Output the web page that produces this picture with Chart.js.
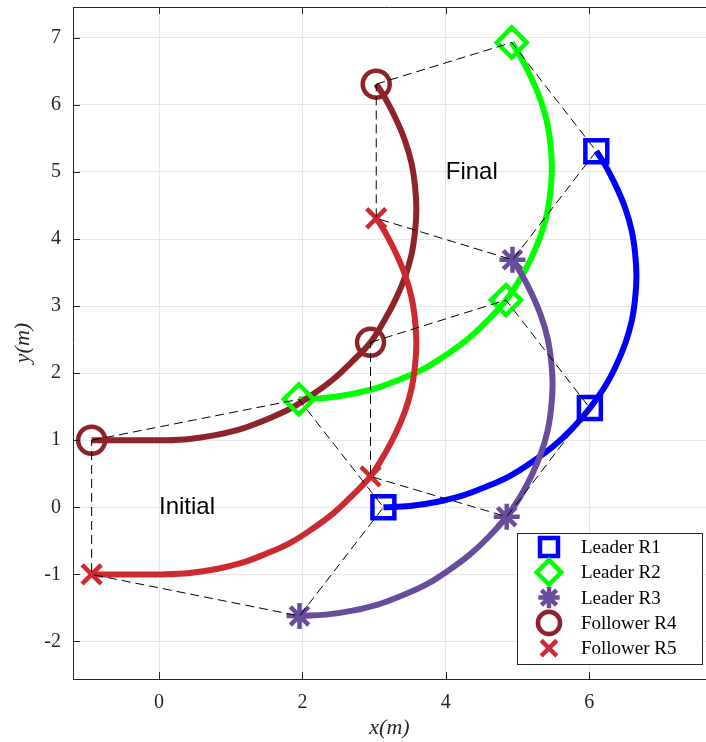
<!DOCTYPE html>
<html>
<head>
<meta charset="utf-8">
<script src="https://cdn.jsdelivr.net/npm/chart.js@4.4.0/dist/chart.umd.min.js"></script>
<style>
body { margin: 0; background: #fff; }
canvas { display: block; }
</style>
</head>
<body>
<canvas id="formation" width="706" height="742"></canvas>
<script>
// robots, in legend order
var robotNames = ['Leader R1', 'Leader R2', 'Leader R3', 'Follower R4', 'Follower R5'];
var robotColors = ['#0000ff', '#00ff00', '#6a4c9c', '#8e2329', '#cc2a30'];
var robotMarkers = ['rect', 'rectRot', 'star', 'circle', 'crossRot'];

// trajectories (m)
var r1X = [3.13, 3.5, 3.87, 4.22, 4.57, 4.9, 5.21, 5.5, 5.76, 6.01, 6.22, 6.37, 6.5, 6.59, 6.64, 6.66, 6.64, 6.59, 6.5, 6.37, 6.22, 6.1];
var r1Y = [0, 0.02, 0.08, 0.17, 0.31, 0.47, 0.68, 0.91, 1.17, 1.48, 1.8, 2.1, 2.43, 2.76, 3.1, 3.45, 3.8, 4.14, 4.47, 4.8, 5.11, 5.31];
var r2X = [1.95, 2.32, 2.69, 3.04, 3.39, 3.72, 4.03, 4.32, 4.58, 4.84, 5.04, 5.19, 5.32, 5.41, 5.46, 5.48, 5.46, 5.41, 5.32, 5.19, 5.04, 4.92];
var r2Y = [1.61, 1.63, 1.69, 1.78, 1.92, 2.08, 2.29, 2.52, 2.78, 3.09, 3.41, 3.71, 4.04, 4.37, 4.71, 5.06, 5.41, 5.75, 6.08, 6.41, 6.72, 6.93];
var r3X = [1.96, 2.33, 2.7, 3.05, 3.4, 3.73, 4.04, 4.33, 4.59, 4.85, 5.05, 5.2, 5.33, 5.42, 5.47, 5.49, 5.47, 5.42, 5.33, 5.2, 5.05, 4.93];
var r3Y = [-1.62, -1.6, -1.54, -1.45, -1.31, -1.15, -0.94, -0.71, -0.45, -0.14, 0.18, 0.48, 0.81, 1.14, 1.48, 1.83, 2.18, 2.52, 2.85, 3.18, 3.49, 3.69];
var r4X = [-0.94, -0.5, 0.06, 0.43, 0.8, 1.15, 1.5, 1.83, 2.14, 2.43, 2.69, 2.95, 3.15, 3.3, 3.43, 3.52, 3.57, 3.59, 3.57, 3.52, 3.43, 3.3, 3.15, 3.03];
var r4Y = [1, 1, 1, 1.02, 1.08, 1.17, 1.31, 1.47, 1.68, 1.91, 2.17, 2.46, 2.8, 3.1, 3.43, 3.76, 4.1, 4.45, 4.8, 5.14, 5.47, 5.8, 6.11, 6.31];
var r5X = [-0.94, -0.5, 0.06, 0.43, 0.8, 1.15, 1.5, 1.83, 2.14, 2.43, 2.69, 2.95, 3.15, 3.3, 3.43, 3.52, 3.57, 3.59, 3.57, 3.52, 3.43, 3.3, 3.15, 3.03];
var r5Y = [-1, -1, -1, -0.98, -0.92, -0.83, -0.69, -0.53, -0.32, -0.09, 0.17, 0.46, 0.8, 1.1, 1.43, 1.76, 2.1, 2.45, 2.8, 3.14, 3.47, 3.8, 4.11, 4.31];

// marked positions: initial, middle, final
var r1MarkX = [3.13, 6.01, 6.1],  r1MarkY = [0, 1.48, 5.31];
var r2MarkX = [1.95, 4.84, 4.92], r2MarkY = [1.61, 3.09, 6.93];
var r3MarkX = [1.96, 4.85, 4.93], r3MarkY = [-1.62, -0.14, 3.69];
var r4MarkX = [-0.94, 2.95, 3.03], r4MarkY = [1, 2.46, 6.31];
var r5MarkX = [-0.94, 2.95, 3.03], r5MarkY = [-1, 0.46, 4.31];

// formation polygon: R4 - R2 - R1 - R3 - R5 - R4
var ring = [3, 1, 0, 2, 4, 3];

// axis ticks
var xTicks = [0, 2, 4, 6];
var yTicks = [-2, -1, 0, 1, 2, 3, 4, 5, 6, 7];

// text labels in the plot
var noteText = ['Initial', 'Final'];
var noteX = [0, 4];
var noteY = [0, 5];

var pathX = [r1X, r2X, r3X, r4X, r5X];
var pathY = [r1Y, r2Y, r3Y, r4Y, r5Y];
var markX = [r1MarkX, r2MarkX, r3MarkX, r4MarkX, r5MarkX];
var markY = [r1MarkY, r2MarkY, r3MarkY, r4MarkY, r5MarkY];
var markRadius = [15.5, 15, 13, 13.5, 13.5];

function pts(xs, ys) {
    return xs.map(function (x, k) { return { x: x, y: ys[k] }; });
}

var datasets = [];

// dashed formation outlines on top
[0, 1, 2].forEach(function (s) {
    datasets.push({
        label: 'formation ' + s,
        data: ring.map(function (r) { return { x: markX[r][s], y: markY[r][s] }; }),
        showLine: true,
        borderColor: '#000',
        borderWidth: 1,
        borderDash: [9, 5],
        pointRadius: 0,
        tension: 0,
        order: 0
    });
});

robotNames.forEach(function (name, i) {
    datasets.push({
        label: name,
        data: pts(markX[i], markY[i]),
        showLine: false,
        pointStyle: robotMarkers[i],
        pointRadius: markRadius[i],
        pointHoverRadius: markRadius[i],
        pointBorderWidth: 4.5,
        pointBorderColor: robotColors[i],
        pointBackgroundColor: 'rgba(0,0,0,0)',
        order: 1
    });
    datasets.push({
        label: name + ' path',
        data: pts(pathX[i], pathY[i]),
        showLine: true,
        borderColor: robotColors[i],
        borderWidth: 6,
        pointRadius: 0,
        tension: 0.4,
        order: 6 - i
    });
});

var framePlugin = {
    id: 'frame',
    afterDatasetsDraw: function (chart) {
        var ctx = chart.ctx, xs = chart.scales.x, ys = chart.scales.y;
        ctx.save();
        ctx.fillStyle = '#000';
        ctx.font = '24px "Liberation Sans"';
        ctx.textAlign = 'left';
        ctx.textBaseline = 'middle';
        noteText.forEach(function (t, k) {
            ctx.fillText(t, xs.getPixelForValue(noteX[k]), ys.getPixelForValue(noteY[k]));
        });
        ctx.restore();
    },
    afterDraw: function (chart) {
        var ctx = chart.ctx, a = chart.chartArea, xs = chart.scales.x, ys = chart.scales.y;
        ctx.save();
        // top edge and inward tick marks
        ctx.strokeStyle = '#262626';
        ctx.lineWidth = 1;
        ctx.beginPath();
        ctx.moveTo(a.left, a.top + 0.5);
        ctx.lineTo(a.right, a.top + 0.5);
        xTicks.forEach(function (v) {
            var px = Math.round(xs.getPixelForValue(v)) + 0.5;
            ctx.moveTo(px, a.bottom);
            ctx.lineTo(px, a.bottom - 7);
            ctx.moveTo(px, a.top);
            ctx.lineTo(px, a.top + 7);
        });
        yTicks.forEach(function (v) {
            var py = Math.round(ys.getPixelForValue(v)) + 0.5;
            ctx.moveTo(a.left, py);
            ctx.lineTo(a.left + 7, py);
        });
        ctx.stroke();

        // legend box
        var bx = 517.5, by = 533.5, bw = 185, bh = 131;
        ctx.fillStyle = '#fff';
        ctx.fillRect(bx, by, bw, bh);
        ctx.strokeStyle = '#262626';
        ctx.strokeRect(bx, by, bw, bh);
        ctx.font = '19px "Liberation Serif"';
        ctx.textAlign = 'left';
        ctx.textBaseline = 'middle';
        robotNames.forEach(function (name, i) {
            var ry = by + 13.5 + i * 25.3;
            ctx.fillStyle = 'rgba(0,0,0,0)';
            ctx.strokeStyle = robotColors[i];
            ctx.lineWidth = 4.5;
            Chart.helpers.drawPoint(ctx, {
                pointStyle: robotMarkers[i],
                radius: markRadius[i] * 0.82,
                rotation: 0,
                borderWidth: 4.5
            }, 549, ry);
            ctx.fillStyle = '#000';
            ctx.fillText(name, 581, ry + 1);
        });
        ctx.restore();
    }
};

Chart.defaults.font.family = '"Liberation Serif"';
Chart.defaults.color = '#262626';

var ctx = document.getElementById('formation');

var chartGraph = new Chart(ctx, {
    type: 'scatter',
    data: { datasets: datasets },
    options: {
        responsive: false,
        animation: false,
        devicePixelRatio: 1,
        layout: { autoPadding: false, padding: { top: 7, right: 0, bottom: 0, left: 0 } },
        plugins: {
            legend: { display: false },
            tooltip: { enabled: false }
        },
        scales: {
            x: {
                type: 'linear',
                min: -1.2,
                max: 7.63,
                afterFit: function (scale) {
                    scale.height = 63;
                    scale.paddingLeft = 0;
                    scale.paddingRight = 0;
                },
                afterBuildTicks: function (scale) {
                    scale.ticks = xTicks.map(function (v) { return { value: v }; });
                },
                ticks: {
                    font: { size: 20 },
                    padding: 12,
                    color: '#262626'
                },
                grid: { color: '#e6e6e6', drawTicks: false },
                border: { display: true, color: '#262626', width: 1 },
                title: {
                    display: true,
                    text: 'x(m)',
                    font: { size: 22, style: 'italic' },
                    color: '#262626',
                    padding: { top: 0, bottom: 1 }
                }
            },
            y: {
                type: 'linear',
                min: -2.56,
                max: 7.46,
                afterFit: function (scale) {
                    scale.width = 73;
                    scale.paddingTop = 0;
                    scale.paddingBottom = 0;
                },
                afterBuildTicks: function (scale) {
                    scale.ticks = yTicks.map(function (v) { return { value: v }; });
                },
                ticks: {
                    font: { size: 20 },
                    padding: 12,
                    color: '#262626'
                },
                grid: { color: '#e6e6e6', drawTicks: false },
                border: { display: true, color: '#262626', width: 1 },
                title: {
                    display: true,
                    text: 'y(m)',
                    font: { size: 22, style: 'italic' },
                    color: '#262626',
                    padding: { top: 10, bottom: 0 }
                }
            }
        }
    },
    plugins: [framePlugin]
});
</script>
</body>
</html>
